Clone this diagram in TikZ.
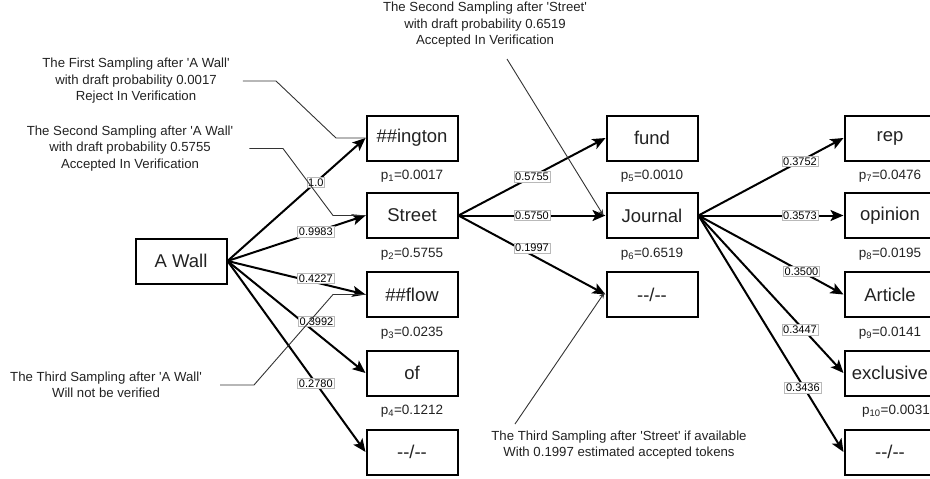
\documentclass[tikz,border=0pt]{standalone}
\usepackage{fontspec}
\setmainfont{Liberation Sans}[Ligatures=TeXOff]
\usetikzlibrary{arrows.meta}
\definecolor{txt}{HTML}{222222}
\definecolor{lead}{HTML}{333333}
\begin{document}
\begin{tikzpicture}[x=1pt,y=-1pt,
  tok/.style={draw=black,line width=2pt,minimum width=91pt,minimum height=45pt,inner sep=0pt,
    font=\fontsize{18.5}{22}\selectfont,text=txt},
  prob/.style={anchor=base,font=\fontsize{13.5}{16}\selectfont,text=txt,inner sep=0pt},
  edge/.style={line width=2pt,-{Stealth[length=13pt,width=11pt,inset=3pt]}},
  elab/.style={fill=white,draw=gray!55,line width=0.6pt,inner sep=1.3pt,
    font=\fontsize{11}{12}\selectfont,text=black},
  note/.style={align=center,font=\fontsize{13.2}{16.5}\selectfont,text=txt,inner sep=0pt},
  leader/.style={draw=lead,line width=0.9pt},
  leadarr/.style={draw=lead,line width=0.9pt,-{Stealth[length=6pt,width=5pt]}}]
\useasboundingbox (0,0) rectangle (930,479);

% column 0
\node[tok] (aw) at (181,261) {A Wall};
% column 1
\node[tok] (ington) at (412,138) {\#\#ington};
\node[tok] (street) at (412,215.5) {Street};
\node[tok] (flow) at (412,294.5) {\#\#flow};
\node[tok] (of) at (412,373) {of};
\node[tok] (na1) at (412,452) {--/--};
% column 2
\node[tok] (fund) at (652,138) {fund};
\node[tok] (journal) at (652,215.5) {Journal};
\node[tok] (na2) at (652,294.5) {--/--};
% column 3
\node[tok] (rep) at (890,138) {rep};
\node[tok] (opinion) at (890,215.5) {opinion};
\node[tok] (article) at (890,294.5) {Article};
\node[tok] (exclusive) at (890,373) {exclusive};
\node[tok] (na3) at (890,452) {--/--};

% probabilities
\node[prob] (p1) at ([yshift=-18pt]ington.south) {p\textsubscript{1}=0.0017};
\node[prob] (p2) at ([yshift=-18pt]street.south) {p\textsubscript{2}=0.5755};
\node[prob] (p3) at ([yshift=-18pt]flow.south) {p\textsubscript{3}=0.0235};
\node[prob] (p4) at ([yshift=-18pt]of.south) {p\textsubscript{4}=0.1212};
\node[prob] (p5) at ([yshift=-18pt]fund.south) {p\textsubscript{5}=0.0010};
\node[prob] (p6) at ([yshift=-18pt]journal.south) {p\textsubscript{6}=0.6519};
\node[prob] (p7) at ([yshift=-18pt]rep.south) {p\textsubscript{7}=0.0476};
\node[prob] (p8) at ([yshift=-18pt]opinion.south) {p\textsubscript{8}=0.0195};
\node[prob] (p9) at ([yshift=-18pt]article.south) {p\textsubscript{9}=0.0141};
\node[prob] (p10) at ([xshift=6pt,yshift=-18pt]exclusive.south) {p\textsubscript{10}=0.0031};

% edges from A Wall
\draw[edge] (aw.east) -- node[elab,pos=0.64] {1.0} (ington.west);
\draw[edge] (aw.east) -- node[elab,pos=0.64] {0.9983} (street.west);
\draw[edge] (aw.east) -- node[elab,pos=0.64,yshift=4pt] {0.4227} (flow.west);
\draw[edge] (aw.east) -- node[elab,pos=0.645,yshift=12pt] {0.3992} (of.west);
\draw[edge] (aw.east) -- node[elab,pos=0.64] {0.2780} (na1.west);
% edges from Street
\draw[edge] (street.east) -- node[elab,pos=0.5] {0.5755} (fund.west);
\draw[edge] (street.east) -- node[elab,pos=0.5] {0.5750} (journal.west);
\draw[edge] (street.east) -- node[elab,pos=0.5,yshift=7pt] {0.1997} (na2.west);
% edges from Journal
\draw[edge] (journal.east) -- node[elab,pos=0.7] {0.3752} (rep.west);
\draw[edge] (journal.east) -- node[elab,pos=0.7] {0.3573} (opinion.west);
\draw[edge] (journal.east) -- node[elab,pos=0.71] {0.3500} (article.west);
\draw[edge] (journal.east) -- node[elab,pos=0.7,yshift=-4pt] {0.3447} (exclusive.west);
\draw[edge] (journal.east) -- node[elab,pos=0.72,yshift=-2pt] {0.3436} (na3.west);

% annotations
\node[note] (a1) at (136,81) {The First Sampling after 'A Wall'\\with draft probability 0.0017\\Reject In Verification};
\node[note] (a2) at (130,148.5) {The Second Sampling after 'A Wall'\\with draft probability 0.5755\\Accepted In Verification};
\node[note] (a3) at (106,385) {The Third Sampling after 'A Wall'\\Will not be verified};
\node[note] (a4) at (485,25) {The Second Sampling after 'Street'\\with draft probability 0.6519\\Accepted In Verification};
\node[note] (a5) at (619,445) {The Third Sampling after 'Street' if available\\With 0.1997 estimated accepted tokens};

\coordinate (c4) at (507,59);
\coordinate (c5) at (515,424);
\draw[leader] ([xshift=13pt]a1.east) -- (276,81) -- (336,138) -- (ington.west);
\draw[leader] ([xshift=16pt]a2.east) -- (283,148.5) -- (333,215.5) -- (street.west);
\draw[leader] ([xshift=18pt]a3.east) -- (254,385) -- (333,294.5) -- (flow.west);
\draw[leadarr] (c4) -- ([xshift=-2pt]journal.west);
\draw[leadarr] (c5) -- ([xshift=-1pt,yshift=2pt]na2.west);
\end{tikzpicture}
\end{document}
